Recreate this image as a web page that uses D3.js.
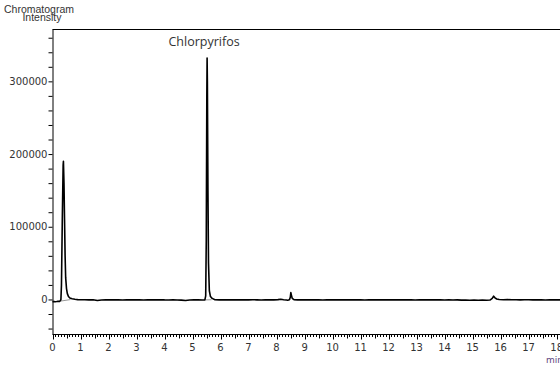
<!DOCTYPE html>
<html><head><meta charset="utf-8">
<script src="https://cdn.jsdelivr.net/npm/d3@7"></script>
<style>body{margin:0;background:#fff;overflow:hidden}svg{display:block}</style>
</head><body>
<script>
// ---- data ----
const traceTime = [0.00,0.05,0.10,0.15,0.20,0.25,0.28,0.30,0.32,0.35,0.38,0.39,0.41,0.43,0.45,0.47,0.50,0.53,0.57,0.62,0.70,0.80,0.90,1.00,1.15,1.30,1.45,1.60,1.75,1.90,2.05,2.20,2.35,2.50,2.65,2.80,2.95,3.10,3.25,3.40,3.55,3.70,3.85,4.00,4.15,4.30,4.45,4.60,4.75,4.90,5.05,5.20,5.35,5.44,5.47,5.49,5.51,5.52,5.53,5.55,5.57,5.60,5.64,5.70,5.80,5.95,6.10,6.25,6.40,6.55,6.70,6.85,7.00,7.15,7.30,7.45,7.60,7.75,7.90,8.05,8.15,8.25,8.35,8.40,8.46,8.49,8.51,8.53,8.56,8.62,8.75,8.90,9.05,9.20,9.35,9.50,9.65,9.80,9.95,10.10,10.25,10.40,10.55,10.70,10.85,11.00,11.15,11.30,11.45,11.60,11.75,11.90,12.05,12.20,12.35,12.50,12.65,12.80,12.95,13.10,13.25,13.40,13.55,13.70,13.85,14.00,14.15,14.30,14.45,14.60,14.75,14.90,15.05,15.20,15.35,15.50,15.62,15.70,15.75,15.80,15.86,15.95,16.10,16.25,16.40,16.55,16.70,16.85,17.00,17.15,17.30,17.45,17.60,17.75,17.90,18.05,18.20];
const traceIntensity = [-3000,-2800,-3200,-2900,-2500,-2600,-1500,-500,20000,110000,185000,190000,160000,110000,60000,30000,15000,8000,4000,2000,1000,300,-200,-400,-300,-600,-500,-1400,-700,-500,-300,-600,-400,-700,-500,-300,-600,-500,-800,-400,-600,-500,-300,-600,-700,-500,-800,-900,-1400,-700,-600,-500,-700,-600,5000,80000,280000,332000,300000,150000,50000,12000,4000,1500,-300,-500,-400,-600,-300,-500,-400,-600,-500,-300,-500,-700,-400,-500,-600,-200,300,-400,-800,-1000,-500,3000,9500,6000,1500,-300,-500,-400,-600,-300,-500,-400,-700,-500,-300,-600,-400,-500,-300,-600,-500,-400,-700,-500,-300,-500,-400,-600,-400,-500,-300,-600,-400,-500,-700,-400,-500,-300,-600,-500,-400,-700,-600,-800,-500,-900,-700,-1000,-900,-1100,-900,-1000,-800,1500,4500,2200,600,-100,-300,-200,-400,-300,-500,-300,-400,-600,-500,-400,-700,-500,-600,-500,-600];
// integration baselines (grey)
const baselineTime = [[0.29,0.64],[5.45,5.68]];
const baselineIntensity = [[-2200,-200],[-600,-400]];
const yTickValues = [0,100000,200000,300000];
const xTickValues = [0,1,2,3,4,5,6,7,8,9,10,11,12,13,14,15,16,17,18];
const peakLabels = ["Chlorpyrifos"];
const peakTimes = [5.52];
const peakHeights = [332000];

const W = 560, H = 367;
const svg = d3.select("body").append("svg").attr("width", W).attr("height", H);
const x = d3.scaleLinear().domain([0, 18.12]).range([52.5, 560]);
const y = d3.scaleLinear().domain([-47500, 372000]).range([334, 29]);
const font = "DejaVu Sans, sans-serif";

// frame top line
svg.append("line").attr("x1", 52.5).attr("x2", 560).attr("y1", 29.5).attr("y2", 29.5).attr("stroke", "#000");

// Y axis
const yMinor = d3.range(-40000, 372001, 20000);
const yAxis = d3.axisLeft(y).tickValues(yMinor).tickSize(4).tickSizeOuter(0)
  .tickFormat(d => yTickValues.includes(d) ? d3.format("d")(d) : "");
const gy = svg.append("g").attr("transform", "translate(52.5,0)").call(yAxis);
gy.select(".domain").attr("stroke", "#000");
gy.selectAll(".tick line").attr("stroke", "#000");
gy.selectAll(".tick text").attr("font-family", font).attr("font-size", 10).attr("fill", "#333").attr("x", -5);

// X axis
const gx = svg.append("g").attr("transform", "translate(0,334.5)");
const xMinor = d3.range(0, 181).map(i => i / 10).filter(v => v <= 18.12);
gx.append("line").attr("x1", 52.5).attr("x2", 560).attr("stroke", "#000");
gx.selectAll("line.t").data(xMinor).join("line").attr("class", "t")
  .attr("x1", d => Math.round(x(d)) + 0.5).attr("x2", d => Math.round(x(d)) + 0.5)
  .attr("y1", 0)
  .attr("y2", (d, i) => (Math.round(d * 10) % 10 === 0) ? 5 : (Math.round(d * 10) % 5 === 0 ? 4 : 2.5))
  .attr("stroke", "#000");
gx.selectAll("text").data(xTickValues).join("text")
  .attr("x", d => x(d)).attr("y", 16).attr("text-anchor", "middle")
  .attr("font-family", font).attr("font-size", 10).attr("fill", "#333").text(d => d);

// unit
svg.append("text").attr("x", 546).attr("y", 363).attr("font-family", font).attr("font-size", 9)
  .attr("fill", "#5e4680").text("min");

// titles
svg.append("text").attr("x", 39).attr("y", 13).attr("text-anchor", "middle").attr("font-family", "Liberation Sans, sans-serif")
  .attr("font-size", 10.5).attr("fill", "#333").text("Chromatogram");
svg.append("text").attr("x", 42).attr("y", 21).attr("text-anchor", "middle").attr("font-family", "Liberation Sans, sans-serif")
  .attr("font-size", 10.5).attr("fill", "#333").text("Intensity");

// baselines
baselineTime.forEach((bt, i) => {
  svg.append("path").datum(bt.map((t, j) => [t, baselineIntensity[i][j]]))
    .attr("d", d3.line().x(d => x(d[0])).y(d => y(d[1])))
    .attr("fill", "none").attr("stroke", "#999").attr("stroke-width", 1);
});

// trace
const pts = traceTime.map((t, i) => [t, traceIntensity[i]]);
svg.append("path").datum(pts)
  .attr("d", d3.line().x(d => x(d[0])).y(d => y(d[1])))
  .attr("fill", "none").attr("stroke", "#000").attr("stroke-width", 1.6).attr("stroke-linejoin", "round");

// peak labels
peakLabels.forEach((l, i) => {
  svg.append("text").attr("x", x(peakTimes[i]) - 3).attr("y", y(peakHeights[i]) - 12).attr("text-anchor", "middle")
    .attr("font-family", "Open Sans, sans-serif").attr("font-size", 12.5).attr("fill", "#333").text(l);
});
</script>
</body></html>
